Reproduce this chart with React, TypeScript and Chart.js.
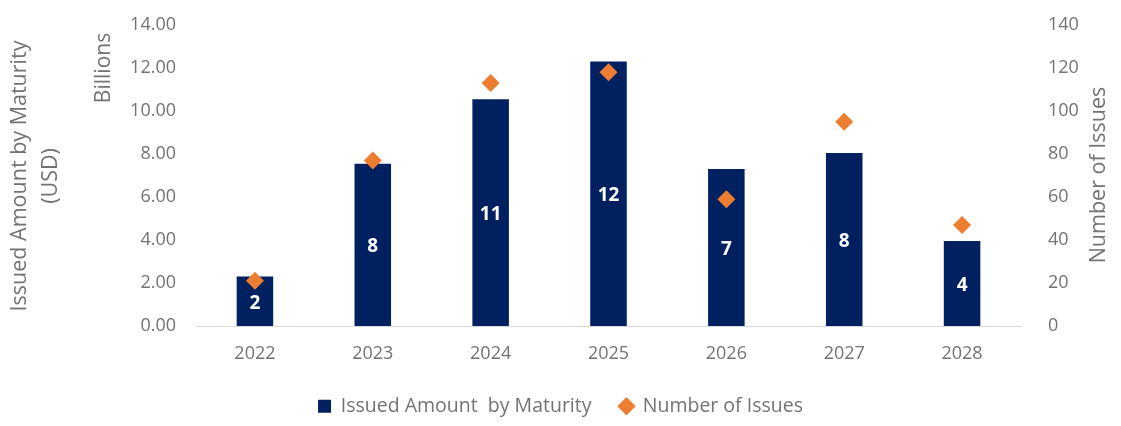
import React, { useEffect, useRef } from "react";
import { Chart, registerables } from "chart.js";

Chart.register(...registerables);

const years = ["2022", "2023", "2024", "2025", "2026", "2027", "2028"];
const issuedAmount = [2.3, 7.55, 10.55, 12.3, 7.3, 8.05, 3.95];
const numberOfIssues = [21, 77, 113, 118, 59, 95, 47];
const leftAxisRange = { min: 0, max: 14, step: 2 };
const rightAxisRange = { min: 0, max: 140, step: 20 };
const amountSeriesName = "Issued Amount  by Maturity";
const issuesSeriesName = "Number of Issues";
const leftTitleLines = ["Issued Amount by Maturity", "(USD)"];
const leftUnit = "Billions";
const rightTitle = "Number of Issues";

const FONT = "'Open Sans', sans-serif";
const GREY = "#737373";
const NAVY = "#002060";
const ORANGE = "#ED7D31";

const barLabelPlugin = {
  id: "barLabels",
  afterDatasetDraw(chart: any, args: any) {
    if (args.index !== 0) return;
    const meta = chart.getDatasetMeta(0);
    const ctx = chart.ctx;
    ctx.save();
    ctx.fillStyle = "#ffffff";
    ctx.font = `bold 19px ${FONT}`;
    ctx.textAlign = "center";
    ctx.textBaseline = "middle";
    meta.data.forEach((bar: any, i: number) => {
      const v = issuedAmount[i];
      const yMid = (bar.y + bar.base) / 2;
      ctx.fillText(String(Math.round(v)), bar.x, yMid + 2);
    });
    ctx.restore();
  },
};

const titlePlugin = {
  id: "axisTitles",
  afterDraw(chart: any) {
    const ctx = chart.ctx;
    ctx.save();
    ctx.fillStyle = GREY;
    ctx.textAlign = "center";
    ctx.textBaseline = "middle";
    const drawRot = (text: string, x: number, y: number, font: string) => {
      ctx.save();
      ctx.translate(x, y);
      ctx.rotate(-Math.PI / 2);
      ctx.font = font;
      ctx.fillText(text, 0, 0);
      ctx.restore();
    };
    drawRot(leftTitleLines[0], 20, 176, `21.5px ${FONT}`);
    drawRot(leftTitleLines[1], 51, 176, `21.5px ${FONT}`);
    drawRot(leftUnit, 104, 68, `21px ${FONT}`);
    drawRot(rightTitle, 1099, 175, `21.5px ${FONT}`);
    ctx.restore();
  },
};

export default function App() {
  const ref = useRef<HTMLCanvasElement | null>(null);
  useEffect(() => {
    if (!ref.current) return;
    const chart = new Chart(ref.current, {
      type: "bar",
      data: {
        labels: years,
        datasets: [
          {
            type: "bar",
            label: amountSeriesName,
            data: issuedAmount,
            backgroundColor: NAVY,
            yAxisID: "y",
            order: 1,
            barPercentage: 0.31,
            categoryPercentage: 1,
            pointStyle: "rect",
          } as any,
          {
            type: "line",
            label: issuesSeriesName,
            data: numberOfIssues,
            yAxisID: "y1",
            showLine: false,
            order: 0,
            pointStyle: "rectRot",
            pointRadius: 9,
            pointHoverRadius: 9,
            backgroundColor: ORANGE,
            borderColor: ORANGE,
            borderWidth: 0,
          } as any,
        ],
      },
      options: {
        animation: false,
        responsive: true,
        maintainAspectRatio: false,
        layout: { padding: { top: 25, left: 0, right: 0, bottom: 0 } },
        plugins: {
          tooltip: { enabled: false },
          legend: {
            position: "bottom",
            labels: {
              usePointStyle: true,
              boxHeight: 13,
              boxWidth: 13,
              color: GREY,
              font: { family: FONT, size: 19.5 },
              padding: 28.5,
              sort: (a: any, b: any) => a.datasetIndex - b.datasetIndex,
            },
          },
        },
        scales: {
          x: {
            grid: { display: false, drawTicks: false },
            border: { display: true, color: "#d9d9d9", width: 1 },
            ticks: { color: GREY, font: { family: FONT, size: 18 }, padding: 17 },
            afterFit: (s: any) => {
              s.height = 42;
            },
          },
          y: {
            position: "left",
            min: leftAxisRange.min,
            max: leftAxisRange.max,
            grid: { display: false, drawTicks: false },
            border: { display: false },
            ticks: {
              stepSize: leftAxisRange.step,
              color: GREY,
              font: { family: FONT, size: 18 },
              padding: 20,
              callback: (v: any) => Number(v).toFixed(2),
            },
            afterFit: (s: any) => {
              s.width = 196;
              s.paddingTop = 0;
              s.paddingBottom = 0;
            },
          },
          y1: {
            position: "right",
            min: rightAxisRange.min,
            max: rightAxisRange.max,
            grid: { display: false, drawTicks: false },
            border: { display: false },
            ticks: {
              stepSize: rightAxisRange.step,
              color: GREY,
              font: { family: FONT, size: 18 },
              padding: 27,
            },
            afterFit: (s: any) => {
              s.width = 100;
              s.paddingTop = 0;
              s.paddingBottom = 0;
            },
          },
        },
      },
      plugins: [barLabelPlugin, titlePlugin],
    });
    return () => chart.destroy();
  }, []);
  return (
    <div style={{ position: "fixed", left: 0, top: 0, width: 1121, height: 426, background: "#fff" }}>
      <canvas ref={ref} />
    </div>
  );
}
